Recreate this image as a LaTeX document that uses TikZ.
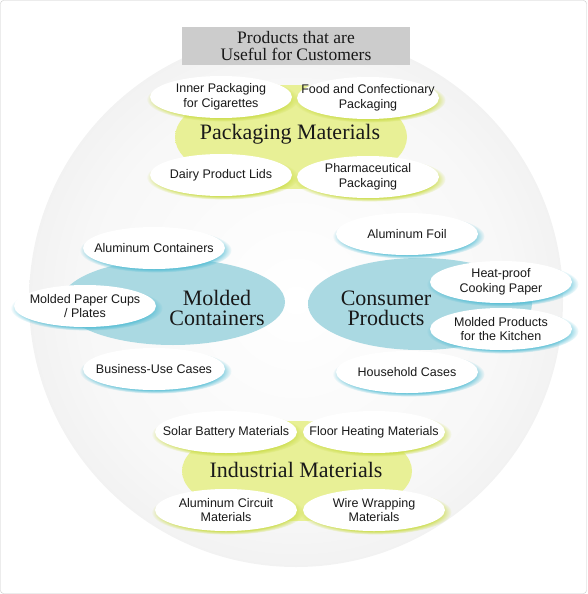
\documentclass[tikz,border=0pt]{standalone}
\usepackage{fontspec}
\setmainfont{Liberation Serif}
\newfontfamily\itemsans{Liberation Sans}
\usetikzlibrary{shapes.geometric,shadows,fadings}

\definecolor{framegray}{RGB}{200,200,200}
\definecolor{titlegray}{RGB}{204,204,204}
\definecolor{blobblue}{RGB}{170,217,226}
\definecolor{blobyellow}{RGB}{232,240,150}
\definecolor{glowblue}{RGB}{80,188,212}
\definecolor{glowyellow}{RGB}{205,222,80}
\definecolor{inktext}{RGB}{25,25,25}

\pgfdeclareradialshading{bgdisc}{\pgfpoint{0bp}{0bp}}{color(0bp)=(white); color(20bp)=(white!97!black); color(50bp)=(black!15)}
\pgfdeclareradialshading{blueblob}{\pgfpoint{0bp}{0bp}}{color(0bp)=(blobblue); color(32bp)=(blobblue); color(50bp)=(blobblue!55!white)}
\pgfdeclareradialshading{yellowblob}{\pgfpoint{0bp}{0bp}}{color(0bp)=(blobyellow); color(36bp)=(blobyellow); color(50bp)=(blobyellow!70!white)}

\tikzset{
  item/.style={ellipse, fill=white, minimum width=142pt, minimum height=42pt,
    inner xsep=-30pt, inner ysep=-4pt, align=center, text=inktext,
    font=\itemsans\fontsize{12.5}{14.5}\selectfont},
  yitem/.style={item, circular drop shadow={fill=glowyellow, opacity=.9,
    shadow scale=1.07, shadow xshift=1.5pt, shadow yshift=-2pt}},
  bitem/.style={item, circular drop shadow={fill=glowblue, opacity=.8,
    shadow scale=1.07, shadow xshift=1.5pt, shadow yshift=-2pt}},
  blob/.style={ellipse, inner sep=0pt},
  heading/.style={align=center, text=inktext, font=\fontsize{22}{20}\selectfont},
}

\begin{document}
\begin{tikzpicture}[x=1pt,y=-1pt]
\useasboundingbox (0,0) rectangle (587,594);
\draw[framegray, rounded corners=3pt] (0.5,0.5) rectangle (586.5,593.5);

\shade[shading=bgdisc] (296,300) circle (267);

\node[fill=titlegray, minimum width=228pt, minimum height=38pt, inner sep=0pt,
  align=center, text=inktext, font=\fontsize{17.5}{17}\selectfont]
  (title) at (296,46) {Products that are\\Useful for Customers};

% packaging
\node[blob, shading=yellowblob, minimum width=232pt, minimum height=104pt] (pkgblob) at (291,137) {};
\node[heading] (pkg) at (290,134) {Packaging Materials};
\node[yitem] (cig) at (221,97) {Inner Packaging\\for Cigarettes};
\node[yitem] (food) at (368,98) {Food and Confectionary\\Packaging};
\node[yitem] (dairy) at (221,175) {Dairy Product Lids};
\node[yitem] (pharma) at (368,177) {Pharmaceutical\\Packaging};

% molded containers
\node[blob, shading=blueblob, minimum width=224pt, minimum height=86pt] (moldblob) at (173,302) {};
\node[heading] (mold) at (217,308) {Molded\\Containers};
\node[bitem] (alcont) at (154,248) {Aluminum Containers};
\node[bitem] (cups) at (85,306) {Molded Paper Cups\\/ Plates};
\node[bitem] (bizcase) at (154,369) {Business-Use Cases};

% consumer products
\node[blob, shading=blueblob, minimum width=224pt, minimum height=92pt] (consblob) at (420,304) {};
\node[heading] (cons) at (386,308) {Consumer\\Products};
\node[bitem] (foil) at (407,234) {Aluminum Foil};
\node[bitem] (heat) at (501,282) {Heat-proof\\Cooking Paper};
\node[bitem] (kitchen) at (501,329) {Molded Products\\for the Kitchen};
\node[bitem] (household) at (407,372) {Household Cases};

% industrial
\node[blob, shading=yellowblob, minimum width=230pt, minimum height=100pt] (indblob) at (297,471) {};
\node[heading] (ind) at (296,470) {Industrial Materials};
\node[yitem] (solar) at (226,432) {Solar Battery Materials};
\node[yitem] (floor) at (374,432) {Floor Heating Materials};
\node[yitem] (circuit) at (226,510) {Aluminum Circuit\\Materials};
\node[yitem] (wire) at (374,510) {Wire Wrapping\\Materials};
\end{tikzpicture}
\end{document}
